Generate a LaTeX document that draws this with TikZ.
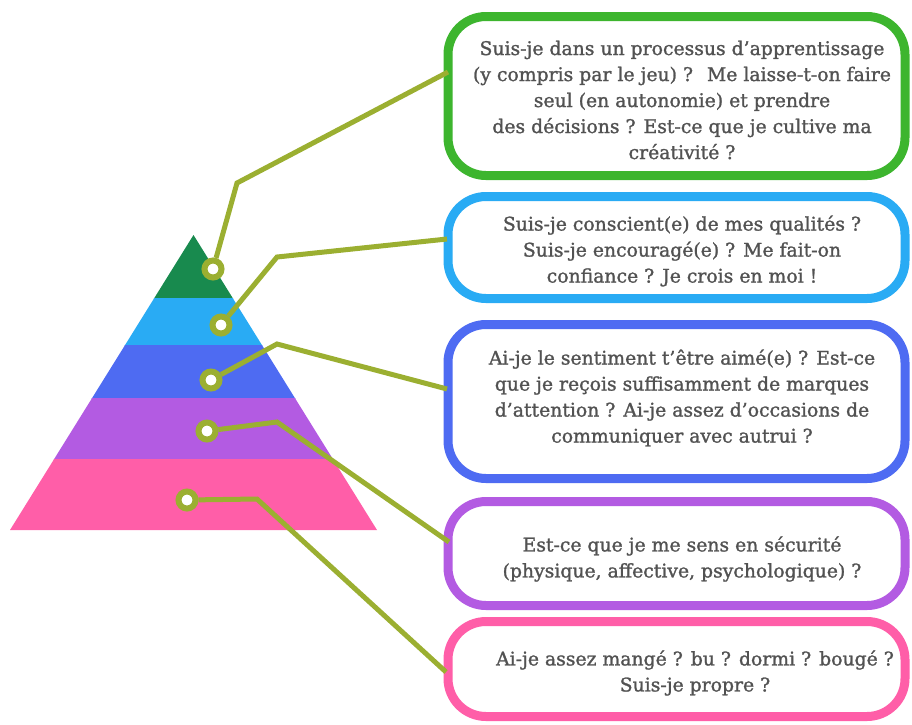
\documentclass[tikz,border=0pt]{standalone}
\usepackage{fontspec}
\setmainfont[FakeBold=1.3]{DejaVu Serif}
\definecolor{lvlgreen}{HTML}{188A4E}
\definecolor{boxgreen}{HTML}{3DB52E}
\definecolor{lvlcyan}{HTML}{29ABF4}
\definecolor{lvlblue}{HTML}{4E6BF2}
\definecolor{lvlviolet}{HTML}{B35BE2}
\definecolor{lvlpink}{HTML}{FF5EA8}
\definecolor{linkolive}{HTML}{9BAF31}
\definecolor{qgrey}{HTML}{525252}
\begin{document}
\begin{tikzpicture}[x=1pt,y=-1pt,
    ring/.style={circle,draw=linkolive,fill=white,line width=6pt,inner sep=0pt,minimum size=17pt},
    link/.style={draw=linkolive,line width=5pt},
    qbox/.style={draw=#1,line width=9pt,fill=white,rounded corners=38pt,minimum width=457pt},
    qtext/.style={text=qgrey,align=center,font=\fontsize{18.8}{26}\selectfont}]
    \useasboundingbox (0,0) rectangle (912,724);
    %% pyramid
    \begin{scope}
        \clip (10,530) -- (193.5,235) -- (377,530) -- cycle;
        \foreach \ya/\yb/\col in {230/298/lvlgreen,298/345/lvlcyan,345/398/lvlblue,398/459/lvlviolet,459/531/lvlpink}
            \fill[\col] (0,\ya) rectangle (400,\yb+0.5);
    \end{scope}
    %% question boxes
    \node[qbox=boxgreen,minimum height=159pt] (q1) at (676.5,96) {};
    \node[qbox=lvlcyan,minimum height=102pt] (q2) at (676.5,247.5) {};
    \node[qbox=lvlblue,minimum height=154pt] (q3) at (676.5,401.5) {};
    \node[qbox=lvlviolet,minimum height=104pt] (q4) at (676.5,553.5) {};
    \node[qbox=lvlpink,minimum height=95pt] (q5) at (676.5,669) {};
    \node[qtext] (s1) at ([xshift=5.5pt,yshift=-4pt]q1.center) {Suis-je dans un processus d'apprentissage\\(y compris par le jeu) ? \ Me laisse-t-on faire\\seul (en autonomie) et prendre\\des décisions ? Est-ce que je cultive ma\\créativité ?};
    \node[qtext] (s2) at ([xshift=5.5pt,yshift=-3.5pt]q2.center) {Suis-je conscient(e) de mes qualités ?\\Suis-je encouragé(e) ? Me fait-on\\confiance ? Je crois en moi !};
    \node[qtext] (s3) at ([xshift=5.5pt,yshift=3.5pt]q3.center) {Ai-je le sentiment t'être aimé(e) ? Est-ce\\que je reçois suffisamment de marques\\d'attention ? Ai-je assez d'occasions de\\communiquer avec autrui ?};
    \node[qtext] (s4) at ([xshift=5.5pt,yshift=-5.5pt]q4.center) {Est-ce que je me sens en sécurité\\(physique, affective, psychologique) ?};
    \node[qtext] (s5) at ([xshift=18.5pt,yshift=-4pt]q5.center) {Ai-je assez mangé ? bu ? dormi ? bougé ?\\Suis-je propre ?};
    %% dots on the levels
    \node[ring] (d1) at (213,269) {};
    \node[ring] (d2) at (221,325) {};
    \node[ring] (d3) at (211,380) {};
    \node[ring] (d4) at (207,431) {};
    \node[ring] (d5) at (187,500) {};
    %% bends and ends of the links
    \coordinate (e1) at (237,183); \coordinate (k1) at (448,72);
    \coordinate (e2) at (277,257); \coordinate (k2) at (447,239);
    \coordinate (e3) at (277,344); \coordinate (k3) at (447,389);
    \coordinate (e4) at (277,422); \coordinate (k4) at (449,542);
    \coordinate (e5) at (257,499); \coordinate (k5) at (446,672);
    \foreach \i in {1,...,5}
        \draw[link] (d\i) -- (e\i) -- (k\i);
\end{tikzpicture}
\end{document}
